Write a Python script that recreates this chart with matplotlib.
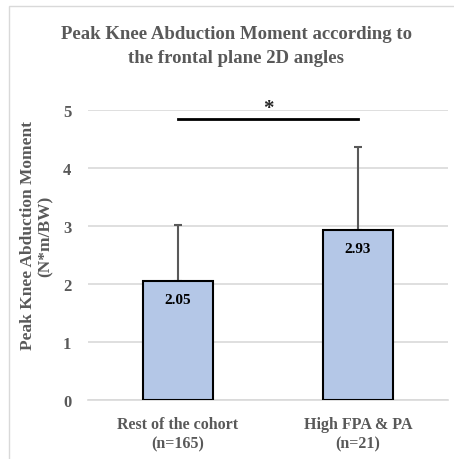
import matplotlib
matplotlib.use('Agg')
from matplotlib import pyplot as plt
from matplotlib.patches import Rectangle

GROUPS = ['Rest of the cohort\n(n=165)', 'High FPA & PA\n(n=21)']
MEANS = [2.05, 2.93]
SDS = [0.97, 1.43]
SIG_Y = 4.84
Y_TICKS = [0, 1, 2, 3, 4, 5]

GRAY = '#595959'
SERIF = ['Liberation Serif', 'DejaVu Serif']


def main():

    fig = plt.figure(figsize=(4.54, 4.60), dpi=100)
    fig.patches.append(Rectangle((9 / 454, -0.1), 1.0, 1 - 7 / 460 + 0.1,
                                 transform=fig.transFigure, fill=False,
                                 edgecolor='#D9D9D9', linewidth=1.0))
    ax = fig.add_axes([88 / 454, 1 - 401 / 460, 360 / 454, 290 / 460])

    x = list(range(len(MEANS)))
    ax.bar(x, MEANS, width=0.39, color='#B4C7E7', edgecolor='black',
           linewidth=1.5, zorder=3)
    ax.errorbar(x, MEANS, yerr=[[0] * len(SDS), SDS], fmt='none',
                ecolor=GRAY, elinewidth=1.5, capsize=3, capthick=1.5,
                zorder=2)
    for xi, m in zip(x, MEANS):
        ax.text(xi, m - 0.21, '{:.2f}'.format(m), ha='center', va='top',
                fontsize=11, fontweight='bold', family=SERIF, zorder=4)

    ax.plot([x[0], x[1]], [SIG_Y, SIG_Y], color='black', linewidth=2,
            zorder=4)
    ax.text((x[0] + x[1]) / 2, SIG_Y + 0.02, '*', ha='center',
            va='bottom', fontsize=15, fontweight='bold', family=SERIF,
            color='#262626')

    ax.set_xlim(-0.5, 1.5)
    ax.set_ylim(0, 5)
    ax.set_yticks(Y_TICKS)
    ax.set_xticks(x)
    ax.set_xticklabels(GROUPS, linespacing=1.25)
    ax.yaxis.grid(True, color='#D9D9D9', linewidth=1.2, zorder=0)
    ax.set_axisbelow(True)
    for side in ['top', 'right', 'left']:
        ax.spines[side].set_visible(False)
    ax.spines['bottom'].set_color('#D9D9D9')
    ax.spines['bottom'].set_linewidth(1.2)
    ax.tick_params(length=0, colors=GRAY)
    ax.tick_params(axis='x', pad=11.5)
    ax.tick_params(axis='y', pad=12)
    for lbl in ax.get_xticklabels() + ax.get_yticklabels():
        lbl.set_family(SERIF)
        lbl.set_fontweight('bold')
        lbl.set_color(GRAY)
    for lbl in ax.get_xticklabels():
        lbl.set_fontsize(11.5)
    for lbl in ax.get_yticklabels():
        lbl.set_fontsize(12)

    fig.text(37 / 454, 1 - 236 / 460,
             'Peak Knee Abduction Moment\n(N*m/BW)', rotation=90,
             ha='center', va='center', family=SERIF, fontweight='bold',
             fontsize=12.5, color=GRAY, linespacing=1.15)

    fig.text(236 / 454, 1 - 46.5 / 460,
             'Peak Knee Abduction Moment according to\n'
             'the frontal plane 2D angles',
             ha='center', va='center', family=SERIF, fontweight='bold',
             fontsize=13.5, color=GRAY, linespacing=1.6)

    fig.savefig('out.png', dpi=100)


if __name__ == '__main__':

    main()
